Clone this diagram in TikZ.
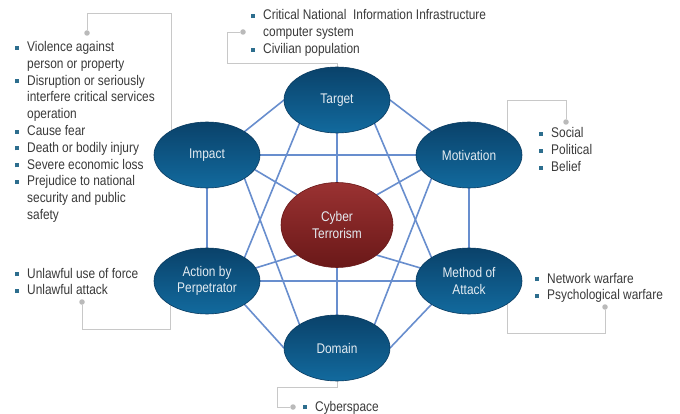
\documentclass[tikz,border=0pt]{standalone}
\usepackage{fontspec}
\setmainfont{Liberation Sans}[FakeStretch=0.85]
\usetikzlibrary{backgrounds,shapes.geometric}

\definecolor{ovaltop}{RGB}{10,66,106}
\definecolor{ovalbot}{RGB}{18,106,158}
\definecolor{ovaledge}{RGB}{8,58,96}
\definecolor{coretop}{RGB}{154,50,50}
\definecolor{corebot}{RGB}{106,24,24}
\definecolor{ovaltext}{RGB}{228,236,242}
\definecolor{linkblue}{RGB}{104,142,206}
\definecolor{framegrey}{RGB}{200,200,200}
\definecolor{dotgrey}{RGB}{186,186,186}
\definecolor{listgrey}{RGB}{58,58,58}
\definecolor{bulletblue}{RGB}{45,110,142}

% square bullet and a two column list (bullet | text)
\newcommand{\sq}{\textcolor{bulletblue}{\rule[1.8pt]{4pt}{4pt}}}
\newcommand{\blist}[1]{\begin{tabular}[t]{@{}l@{\hspace{8pt}}l@{}}#1\end{tabular}}

\begin{document}
\begin{tikzpicture}[x=1pt, y=-1pt,
	oval/.style={ellipse, minimum width=106pt, minimum height=66pt, inner sep=0pt, outer sep=0pt,
		draw=ovaledge, line width=0.6pt, top color=ovaltop, bottom color=ovalbot,
		text=ovaltext, align=center, font=\fontsize{14}{16.5}\selectfont},
	core/.style={oval, minimum width=112pt, minimum height=85pt, draw=corebot,
		top color=coretop, bottom color=corebot},
	link/.style={draw=linkblue, line width=1.6pt},
	frame/.style={draw=framegrey, line width=0.8pt},
	dot/.style={circle, fill=dotgrey, inner sep=0pt, minimum size=5.5pt},
	list/.style={anchor=base west, inner sep=0pt, text=listgrey, font=\fontsize{14}{16.8}\selectfont}]
	\useasboundingbox (0,0) rectangle (680,414);

	% the six aspects round the core
	\node[oval] (target) at (337,100) {Target};
	\node[oval] (impact) at (207,155) {Impact};
	\node[oval] (motive) at (469,155) {Motivation};
	\node[oval] (action) at (207,281) {Action by\\Perpetrator};
	\node[oval] (method) at (469,281) {Method of\\Attack};
	\node[oval] (domain) at (337,348) {Domain};
	\node[core] (cyber) at (337,225) {Cyber\\Terrorism};

	% lists
	\node[list] (impactlist) at (15,51.5) {\blist{
		\sq & Violence against\\
		    & person or property\\
		\sq & Disruption or seriously\\
		    & interfere critical services\\
		    & operation\\
		\sq & Cause fear\\
		\sq & Death or bodily injury\\
		\sq & Severe economic loss\\
		\sq & Prejudice to national\\
		    & security and public\\
		    & safety}};
	\node[list] (targetlist) at (251,20) {\blist{
		\sq & Critical National~ Information Infrastructure\\
		    & computer system\\
		\sq & Civilian population}};
	\node[list] (motivelist) at (539,138) {\blist{
		\sq & Social\\
		\sq & Political\\
		\sq & Belief}};
	\node[list] (actionlist) at (15,278) {\blist{
		\sq & Unlawful use of force\\
		\sq & Unlawful attack}};
	\node[list] (methodlist) at (535,283) {\blist{
		\sq & Network warfare\\
		\sq & Psychological warfare}};
	\node[list] (domainlist) at (303,411) {\blist{
		\sq & Cyberspace}};

	% bracket ends
	\node[dot] (impactdot) at (87,33) {};
	\node[dot] (targetdot) at (243,32) {};
	\node[dot] (motivedot) at (566,122) {};
	\node[dot] (actiondot) at (82,302) {};
	\node[dot] (methoddot) at (605,307) {};
	\node[dot] (domaindot) at (293,407) {};
	\coordinate (impactbend) at (171,13);
	\coordinate (targetbend) at (227,63);
	\coordinate (motivebend) at (507,100);
	\coordinate (actionbend) at (170,329);
	\coordinate (methodbend) at (507,333);
	\coordinate (domainbend) at (277,387);

	\begin{scope}[on background layer]
		\fill[white] (0,0) rectangle (680,414);

		\draw[frame] (impactdot) |- (impactbend) -- (impactbend |- impact.center);
		\draw[frame] (targetdot) -| (targetbend) -| (target.south);
		\draw[frame] (motivedot) |- (motivebend) -- (motivebend |- motive.center);
		\draw[frame] (actiondot) |- (actionbend) -- (actionbend |- action.center);
		\draw[frame] (methoddot) |- (methodbend) -- (methodbend |- method.center);
		\draw[frame] (domaindot) -| (domainbend) -| (domain.north);

		\draw[link] (target.west) -- (impact.north east);
		\draw[link] (target.east) -- (motive.north west);
		\draw[link] (target.south) -- (cyber.north);
		\draw[link] (target.south west) -- (action.north east);
		\draw[link] (target.south east) -- (method.north west);
		\draw[link] (impact.east) -- (motive.west);
		\draw[link] (impact.south) -- (action.north);
		\draw[link] (impact.-17) -- (cyber.north west);
		\draw[link] (impact.south east) -- (domain.north west);
		\draw[link] (motive.south) -- (method.north);
		\draw[link] (motive.197) -- (cyber.north east);
		\draw[link] (motive.south west) -- (domain.north east);
		\draw[link] (action.east) -- (method.west);
		\draw[link] (action.15) -- (cyber.south west);
		\draw[link] (action.south east) -- (domain.west);
		\draw[link] (method.165) -- (cyber.south east);
		\draw[link] (method.south west) -- (domain.east);
		\draw[link] (cyber.south) -- (domain.north);
	\end{scope}
\end{tikzpicture}
\end{document}
